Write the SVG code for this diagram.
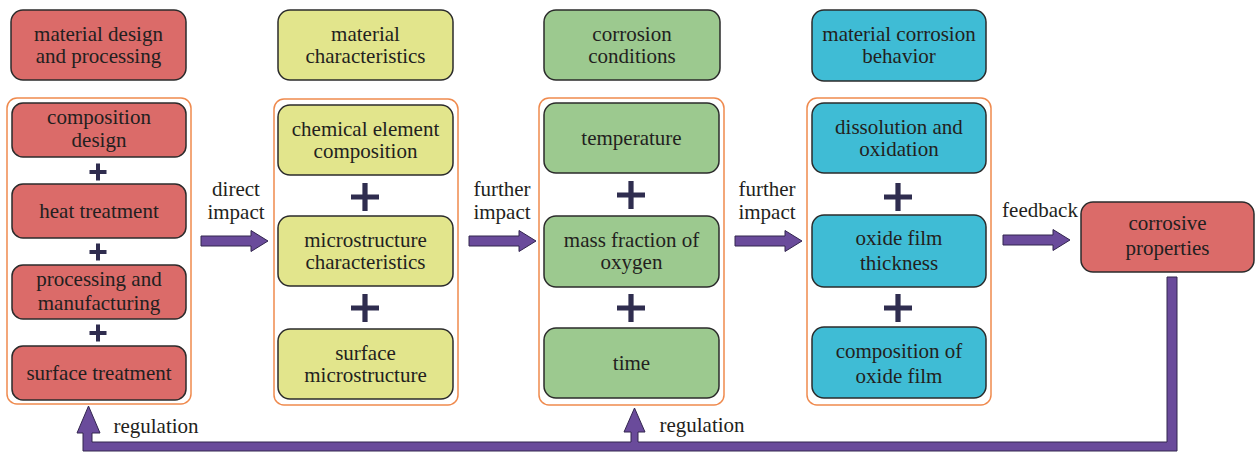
<svg xmlns="http://www.w3.org/2000/svg" width="1255" height="452" viewBox="0 0 1255 452">
<style>
text{font-family:'Liberation Serif','Times New Roman',serif;font-size:21px;fill:#231f20;text-anchor:middle}
.box{stroke:#2b2b2b;stroke-width:1.5}
.red{fill:#db6b69}
.yel{fill:#e2e58c}
.grn{fill:#9cc98f}
.cyn{fill:#3fbcd5}
.cont{fill:none;stroke:#ef8a4e;stroke-width:1.5}
.arr{fill:#6a4b9b;stroke:#33264f;stroke-width:1}
.plus{fill:#2f2d4f}
</style>
<defs>
<path id="harrow" d="M0,-5 H50 V-10.5 L67,0 L50,10.5 V5 H0 Z"/>
<path id="plusS" d="M-2,-8.5 H2 V-2 H8.5 V2 H2 V8.5 H-2 V2 H-8.5 V-2 H-2 Z"/>
<path id="plusB" d="M-2.6,-14 H2.6 V-2.6 H14 V2.6 H2.6 V14 H-2.6 V2.6 H-14 V-2.6 H-2.6 Z"/>
</defs>

<g id="col1">
<g id="h1"><rect class="box red" x="11" y="10" width="175" height="70" rx="12"/><text x="98.5" y="41">material design</text><text x="98.5" y="63">and processing</text></g>
<rect class="cont" x="7" y="98" width="184" height="306" rx="10"/>
<g id="n1a"><rect class="box red" x="12" y="103" width="174" height="54" rx="11"/><text x="99" y="124">composition</text><text x="99" y="147">design</text></g>
<use href="#plusS" class="plus" x="98" y="172"/>
<g id="n1b"><rect class="box red" x="12" y="184" width="174" height="54" rx="11"/><text x="99" y="218">heat treatment</text></g>
<use href="#plusS" class="plus" x="98" y="252"/>
<g id="n1c"><rect class="box red" x="12" y="265" width="174" height="54" rx="11"/><text x="99" y="286">processing and</text><text x="99" y="310">manufacturing</text></g>
<use href="#plusS" class="plus" x="98" y="333"/>
<g id="n1d"><rect class="box red" x="12" y="346" width="174" height="54" rx="11"/><text x="99" y="380">surface treatment</text></g>
</g>

<g id="col2">
<g id="h2"><rect class="box yel" x="278" y="10" width="175" height="70" rx="12"/><text x="365.5" y="41">material</text><text x="365.5" y="63">characteristics</text></g>
<rect class="cont" x="274" y="99" width="184" height="306" rx="10"/>
<g id="n2a"><rect class="box yel" x="278" y="105" width="175" height="70" rx="12"/><text x="365.5" y="136">chemical element</text><text x="365.5" y="158">composition</text></g>
<use href="#plusB" class="plus" x="365" y="197"/>
<g id="n2b"><rect class="box yel" x="278" y="216" width="175" height="70" rx="12"/><text x="365.5" y="247">microstructure</text><text x="365.5" y="269">characteristics</text></g>
<use href="#plusB" class="plus" x="365" y="308"/>
<g id="n2c"><rect class="box yel" x="278" y="329" width="175" height="70" rx="12"/><text x="365.5" y="360">surface</text><text x="365.5" y="382">microstructure</text></g>
</g>

<g id="col3">
<g id="h3"><rect class="box grn" x="544" y="10" width="176" height="70" rx="12"/><text x="632" y="41">corrosion</text><text x="632" y="63">conditions</text></g>
<rect class="cont" x="539" y="98" width="185" height="307" rx="10"/>
<g id="n3a"><rect class="box grn" x="544" y="103" width="175" height="70" rx="12"/><text x="631.5" y="145">temperature</text></g>
<use href="#plusB" class="plus" x="631" y="195"/>
<g id="n3b"><rect class="box grn" x="544" y="216" width="175" height="71" rx="12"/><text x="631.5" y="247">mass fraction of</text><text x="631.5" y="269">oxygen</text></g>
<use href="#plusB" class="plus" x="631" y="308"/>
<g id="n3c"><rect class="box grn" x="544" y="328" width="175" height="70" rx="12"/><text x="631.5" y="370">time</text></g>
</g>

<g id="col4">
<g id="h4"><rect class="box cyn" x="812" y="10" width="174" height="71" rx="12"/><text x="899" y="41">material corrosion</text><text x="899" y="63">behavior</text></g>
<rect class="cont" x="807" y="98" width="184" height="307" rx="10"/>
<g id="n4a"><rect class="box cyn" x="812" y="103" width="174" height="70" rx="12"/><text x="899" y="134">dissolution and</text><text x="899" y="156">oxidation</text></g>
<use href="#plusB" class="plus" x="898" y="197"/>
<g id="n4b"><rect class="box cyn" x="812" y="215" width="174" height="72" rx="12"/><text x="899" y="245">oxide film</text><text x="899" y="270">thickness</text></g>
<use href="#plusB" class="plus" x="898" y="308"/>
<g id="n4c"><rect class="box cyn" x="812" y="327" width="174" height="71" rx="12"/><text x="899" y="358">composition of</text><text x="899" y="383">oxide film</text></g>
</g>

<g id="out">
<rect class="box red" x="1081" y="202" width="173" height="70" rx="12"/><text x="1167.5" y="230">corrosive</text><text x="1167.5" y="255">properties</text>
</g>

<g id="connectors">
<use href="#harrow" class="arr" x="201" y="241"/>
<text x="236" y="196">direct</text><text x="236" y="219">impact</text>
<use href="#harrow" class="arr" x="469" y="241"/>
<text x="502" y="196">further</text><text x="502" y="219">impact</text>
<use href="#harrow" class="arr" x="735" y="241"/>
<text x="767" y="196">further</text><text x="767" y="219">impact</text>
<use href="#harrow" class="arr" x="1003" y="240"/>
<text x="1040" y="217">feedback</text>
<path class="arr" d="M1167,277 H1177 V451 H83 V433 H77 L88.5,406 L100,433 H92 V442 H631 V432 H624 L634.5,408 L645,432 H638 V442 H1167 Z"/>
<text x="156" y="433">regulation</text>
<text x="702" y="432">regulation</text>
</g>
</svg>
